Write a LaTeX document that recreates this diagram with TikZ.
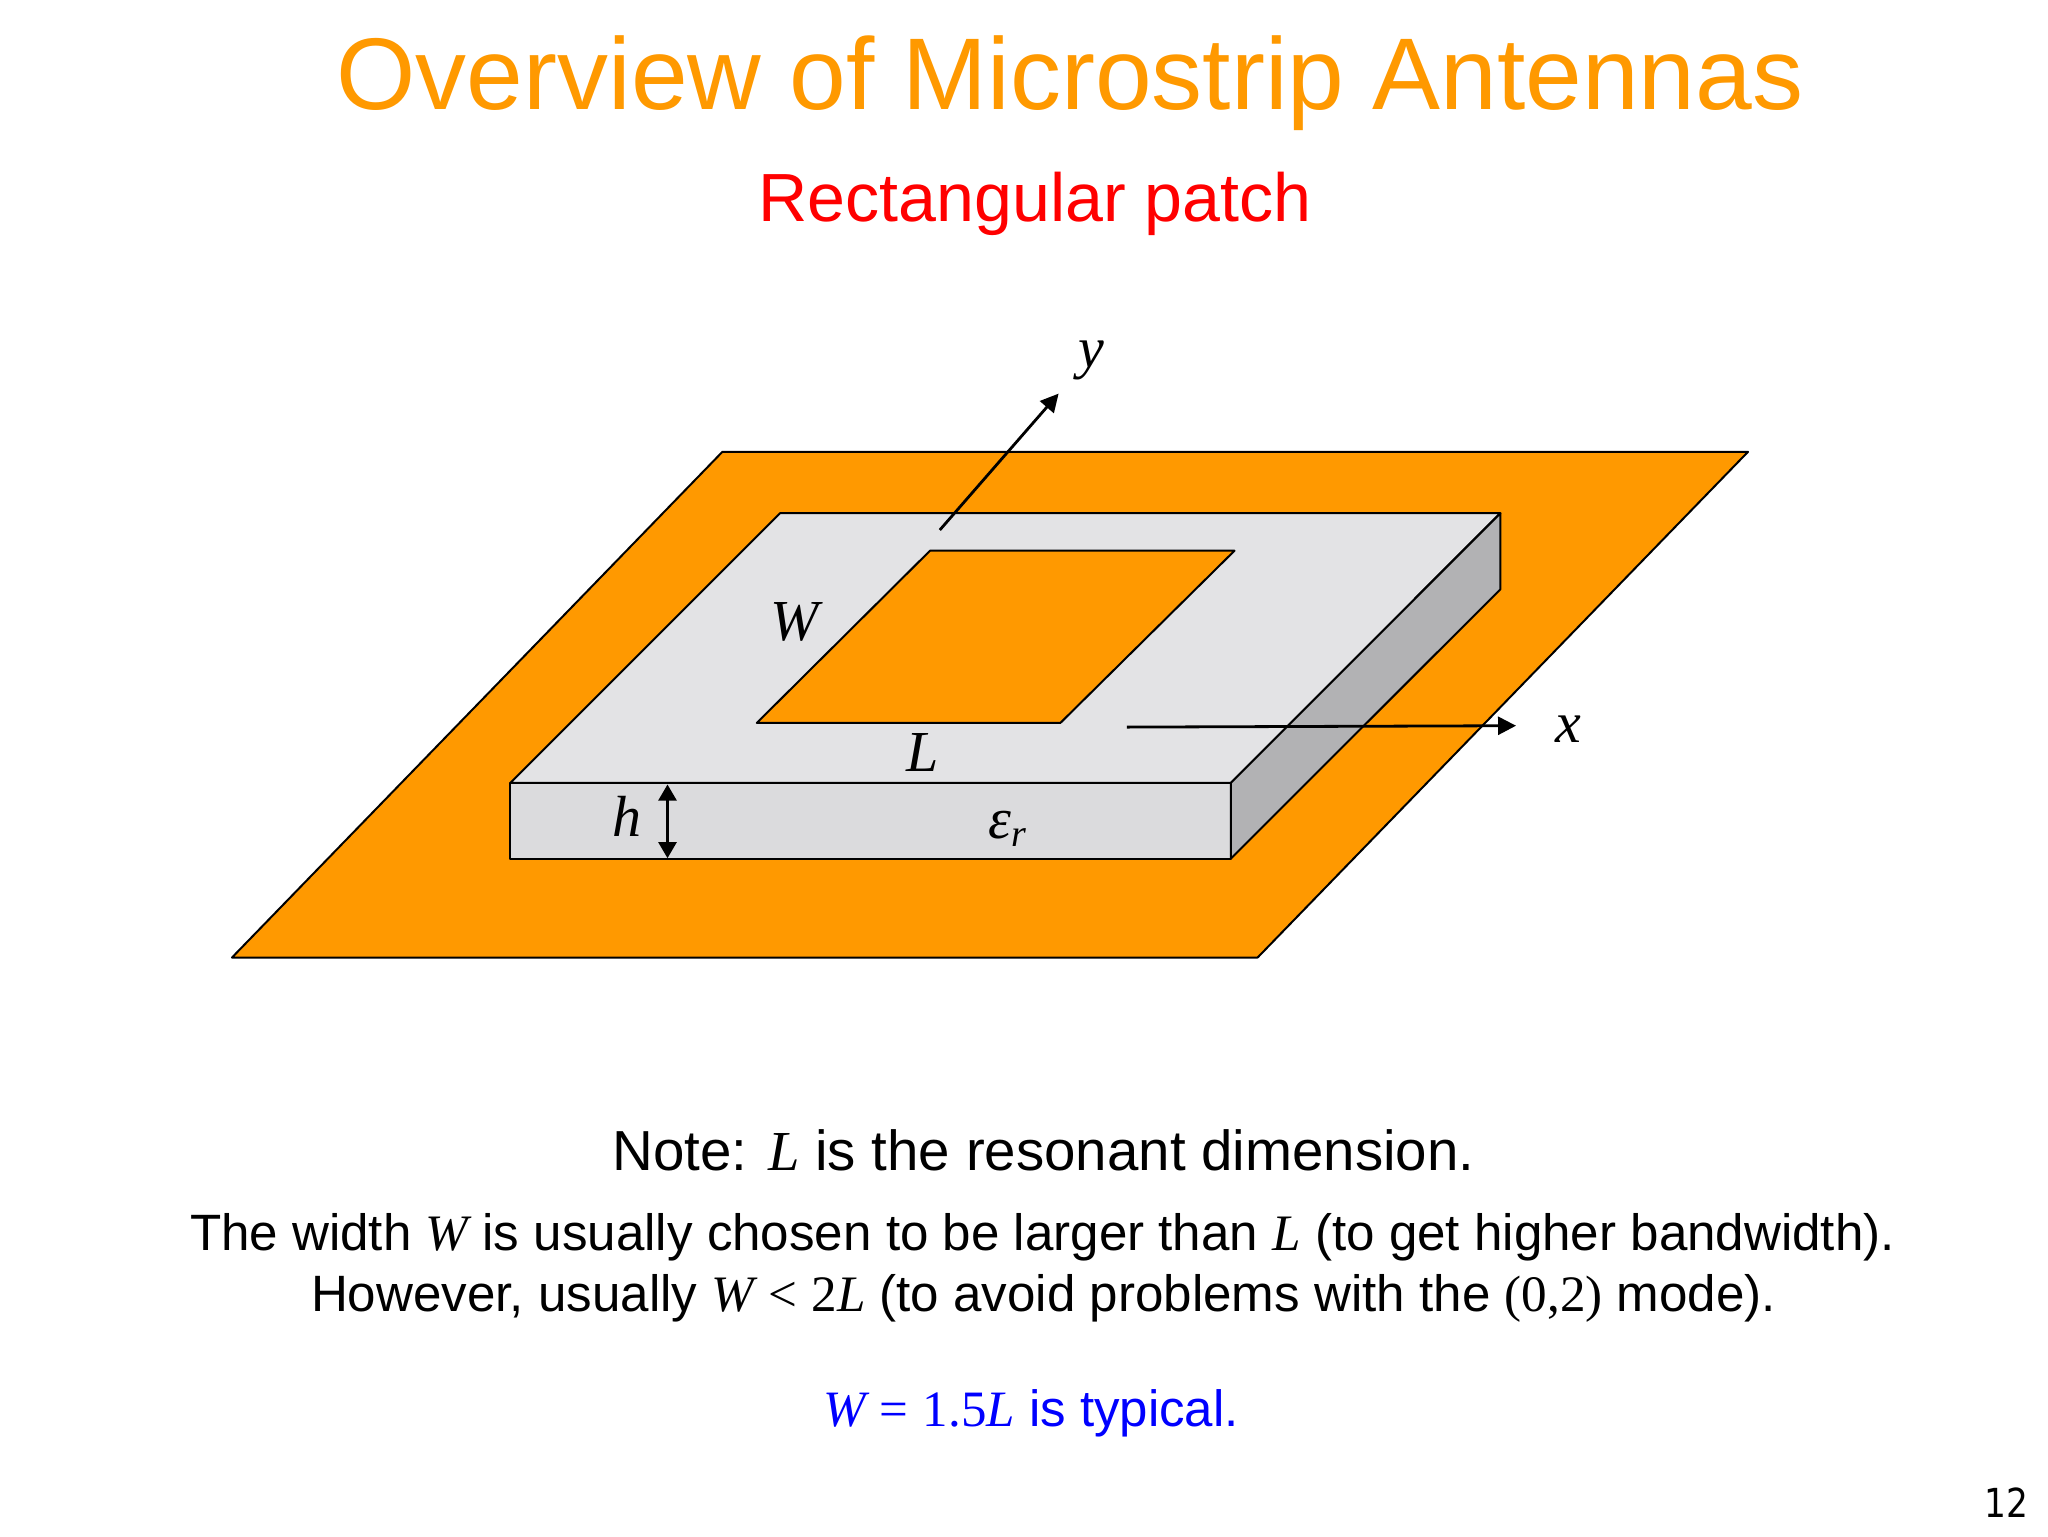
\documentclass[tikz,border=0pt]{standalone}
\usepackage{fontspec}
\setmainfont{Liberation Sans}
\newfontfamily\tms{Liberation Serif}
\newfontfamily\numfont[FakeStretch=0.86]{DejaVu Sans}
\usetikzlibrary{arrows.meta}
\definecolor{patchorange}{HTML}{FF9900}
\definecolor{subtop}{HTML}{E3E3E5}
\definecolor{subfront}{HTML}{DBDBDD}
\definecolor{subside}{HTML}{B2B2B4}
\definecolor{titlered}{HTML}{FF0000}
\definecolor{noteblue}{HTML}{0000FF}
\newcommand{\mi}[1]{{\tms\itshape #1}}
\newcommand{\mr}[1]{{\tms #1}}
\tikzset{
  x=0.5pt,y=-0.5pt,
  face/.style={draw=black,line width=1pt,line join=round},
  axis/.style={draw=black,line width=1.4pt,-{Triangle[length=9pt,width=9pt]}},
  dimarrow/.style={draw=black,line width=1.2pt,{Triangle[length=8pt,width=9pt]}-{Triangle[length=8pt,width=9pt]}},
  txt/.style={anchor=base,inner sep=0pt,outer sep=0pt},
  sym/.style={anchor=center,inner sep=0pt,outer sep=0pt,font=\fontsize{29}{34}\selectfont\tms\itshape},
  titletxt/.style={txt,text=patchorange,font=\fontsize{50.95}{60}\selectfont},
  subtxt/.style={txt,text=titlered,font=\fontsize{34.08}{40}\selectfont},
  notetxt/.style={txt,text=black,font=\fontsize{28.23}{34}\selectfont},
  bodytxt/.style={txt,text=black,font=\fontsize{25.56}{30}\selectfont},
  bluetxt/.style={txt,text=noteblue,font=\fontsize{25.5}{30}\selectfont},
}
\begin{document}
\begin{tikzpicture}
\useasboundingbox (0,0) rectangle (2048,1536);
\fill[white] (0,0) rectangle (2048,1536);
% ground plane
\coordinate (gtl) at (722.4,451.8);
\coordinate (gtr) at (1748,451.8);
\coordinate (gbr) at (1257.6,957.5);
\coordinate (gbl) at (232,957.5);
\draw[face,fill=patchorange] (gtl) -- (gtr) -- (gbr) -- (gbl) -- cycle;
% substrate
\coordinate (stl) at (780,513.2);
\coordinate (str) at (1500.4,513.2);
\coordinate (srl) at (1500.4,589.3);
\coordinate (ftl) at (510.4,782.9);
\coordinate (ftr) at (1230.8,782.9);
\coordinate (fbr) at (1230.8,858.6);
\coordinate (fbl) at (510.4,858.6);
\draw[face,fill=subtop] (stl) -- (str) -- (ftr) -- (ftl) -- cycle;
\draw[face,fill=subfront] (ftl) -- (ftr) -- (fbr) -- (fbl) -- cycle;
\draw[face,fill=subside] (str) -- (srl) -- (fbr) -- (ftr) -- cycle;
% patch
\coordinate (ptl) at (930,550.7);
\coordinate (ptr) at (1234.5,550.7);
\coordinate (pbr) at (1060.4,722.9);
\coordinate (pbl) at (756.8,722.9);
\draw[face,fill=patchorange] (ptl) -- (ptr) -- (pbr) -- (pbl) -- cycle;
% axes
\coordinate (ys) at (939.8,530);
\coordinate (ye) at (1058.6,393.6);
\coordinate (xs) at (1126.8,727.1);
\coordinate (xe) at (1516,725.7);
\coordinate (hs) at (667.5,784.5);
\coordinate (he) at (667.5,858.2);
\draw[axis] (ys) -- (ye);
\draw[axis] (xs) -- (xe);
\draw[dimarrow] (hs) -- (he);
% symbols
\node[sym] (ylab) at (1091,360) {y};
\node[sym] (xlab) at (1568,729) {x};
\node[sym] (wlab) at (795,622) {W};
\node[sym] (llab) at (923,753) {L};
\node[sym] (hlab) at (627,816) {h};
\node[txt,font=\fontsize{29}{34}\selectfont\tms\itshape] (erlab) at (1007,838) {ε\raisebox{-4pt}{\fontsize{19}{22}\selectfont r}};
% text
\node[titletxt] (title) at (1070,110) {Overview of Microstrip Antennas};
\node[subtxt] (subtitle) at (1035,221) {Rectangular patch};
\node[notetxt] (note) at (1043.5,1170.7) {Note: \mi{L} is the resonant dimension.};
\node[bodytxt] (line1) at (1042.5,1250) {The width \mi{W} is usually chosen to be larger than \mi{L} (to get higher bandwidth).};
\node[bodytxt] (line2) at (1043.5,1311.7) {However, usually \mi{W} \mr{<} \mr{2}\mi{L} (to avoid problems with the \mr{(0,2)} mode).};
\node[bluetxt] (line3) at (1031,1426.7) {\mi{W} \mr{=} \mr{1.5}\mi{L} is typical.};
\node[txt,font=\fontsize{20}{24}\selectfont\numfont] (page) at (2006,1517) {12};
\end{tikzpicture}
\end{document}
